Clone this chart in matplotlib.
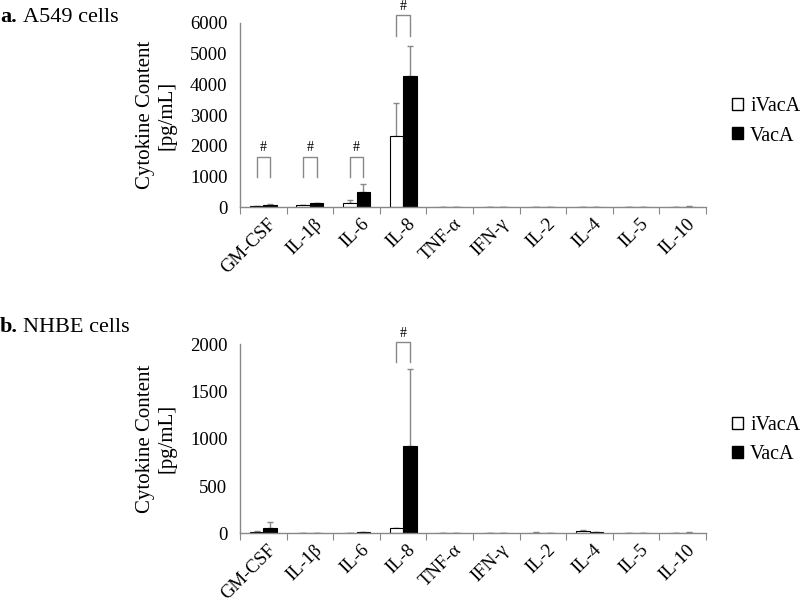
import matplotlib
matplotlib.use("Agg")
import matplotlib.pyplot as plt
import numpy as np
from matplotlib.patches import Patch

plt.rcParams['font.family'] = ['Liberation Serif', 'DejaVu Serif']

categories = ["GM-CSF", "IL-1β", "IL-6", "IL-8", "TNF-α", "IFN-γ", "IL-2", "IL-4", "IL-5", "IL-10"]

# Panel a: A549 cells
a_ivaca = [40, 70, 130, 2310, 5, 5, 8, 5, 5, 8]
a_ivaca_err = [10, 15, 100, 1090, 3, 3, 3, 3, 3, 3]
a_vaca = [80, 130, 500, 4290, 5, 10, 10, 8, 10, 25]
a_vaca_err = [20, 20, 250, 950, 3, 3, 3, 3, 3, 10]
a_sig = [0, 1, 2, 3]
a_sig_low = [1000, 1000, 1000, 5580]
a_sig_high = [1650, 1650, 1650, 6250]

# Panel b: NHBE cells
b_ivaca = [15, 5, 5, 56, 3, 2, 8, 20, 3, 5]
b_ivaca_err = [10, 2, 3, 5, 2, 1, 3, 20, 2, 3]
b_vaca = [60, 3, 12, 927, 3, 2, 5, 10, 3, 8]
b_vaca_err = [60, 2, 5, 808, 2, 1, 3, 5, 2, 3]
b_sig = [3]
b_sig_low = [1810]
b_sig_high = [2020]

fig = plt.figure(figsize=(8, 6.02), dpi=100)
ax_a = fig.add_axes([0.30, 0.6557, 0.5825, 0.3061])
ax_b = fig.add_axes([0.30, 0.1141, 0.5825, 0.3140])

w = 0.29
gray = '#888888'

def draw(ax, iv, iv_e, v, v_e, ymax, yticks, sig, lo, hi, leg_y):
    x = np.arange(len(categories)) + 0.5
    ax.bar(x - w/2, iv, w, color='white', edgecolor='black', linewidth=0.8, zorder=2)
    ax.bar(x + w/2, v, w, color='black', edgecolor='black', linewidth=0.8, zorder=2)
    ax.errorbar(x - w/2, iv, yerr=[np.zeros(len(iv)), iv_e], fmt='none', ecolor=gray,
                elinewidth=1, capsize=2.5, capthick=1, zorder=1)
    ax.errorbar(x + w/2, v, yerr=[np.zeros(len(v)), v_e], fmt='none', ecolor=gray,
                elinewidth=1, capsize=2.5, capthick=1, zorder=1)
    for i, l, h in zip(sig, lo, hi):
        xc = x[i]
        ax.plot([xc - w/2, xc - w/2, xc + w/2, xc + w/2], [l, h, h, l], color=gray,
                lw=1, clip_on=False)
        ax.text(xc, h + ymax * 0.012, '#', ha='center', va='bottom', fontsize=10, clip_on=False)
    ax.set_xlim(0, len(categories))
    ax.set_ylim(0, ymax)
    ax.set_yticks(yticks)
    ax.set_yticklabels([str(t) for t in yticks], fontsize=13.5)
    ax.set_xticks(np.arange(len(categories) + 1))
    ax.set_xticklabels([])
    ax.set_xticks(x + 0.08, minor=True)
    ax.set_xticklabels(categories, minor=True, rotation=45, ha='right', rotation_mode='anchor',
                       fontsize=13.5)
    ax.tick_params(axis='x', which='minor', length=0, pad=6)
    ax.tick_params(axis='x', which='major', length=5, color=gray, direction='out')
    ax.tick_params(axis='y', length=0, pad=9)
    for s in ['top', 'right']:
        ax.spines[s].set_visible(False)
    for s in ['left', 'bottom']:
        ax.spines[s].set_color(gray)
        ax.spines[s].set_linewidth(1)
    ax.set_ylabel('Cytokine Content\n[pg/mL]', fontsize=15, labelpad=10, linespacing=1.15)
    handles = [Patch(facecolor='white', edgecolor='black', label='iVacA'),
               Patch(facecolor='black', edgecolor='black', label='VacA')]
    fig.legend(handles=handles, loc='center left', bbox_to_anchor=(732 / 800, leg_y),
               frameon=False, fontsize=14.5, handlelength=0.55, handleheight=0.55,
               handletextpad=0.35, labelspacing=0.5, borderaxespad=0, borderpad=0)

draw(ax_a, a_ivaca, a_ivaca_err, a_vaca, a_vaca_err, 6000, [0, 1000, 2000, 3000, 4000, 5000, 6000],
     a_sig, a_sig_low, a_sig_high, 1 - 121.5 / 602)
draw(ax_b, b_ivaca, b_ivaca_err, b_vaca, b_vaca_err, 2000, [0, 500, 1000, 1500, 2000],
     b_sig, b_sig_low, b_sig_high, 1 - 440 / 602)

fig.text(0.0, 1 - 22 / 602, 'a.', fontsize=16, fontweight='bold', va='baseline', ha='left')
fig.text(0.029, 1 - 22 / 602, 'A549 cells', fontsize=16, va='baseline', ha='left')
fig.text(0.0, 1 - 332 / 602, 'b.', fontsize=16, fontweight='bold', va='baseline', ha='left')
fig.text(0.029, 1 - 332 / 602, 'NHBE cells', fontsize=16, va='baseline', ha='left')

fig.savefig('out.png', dpi=100)
